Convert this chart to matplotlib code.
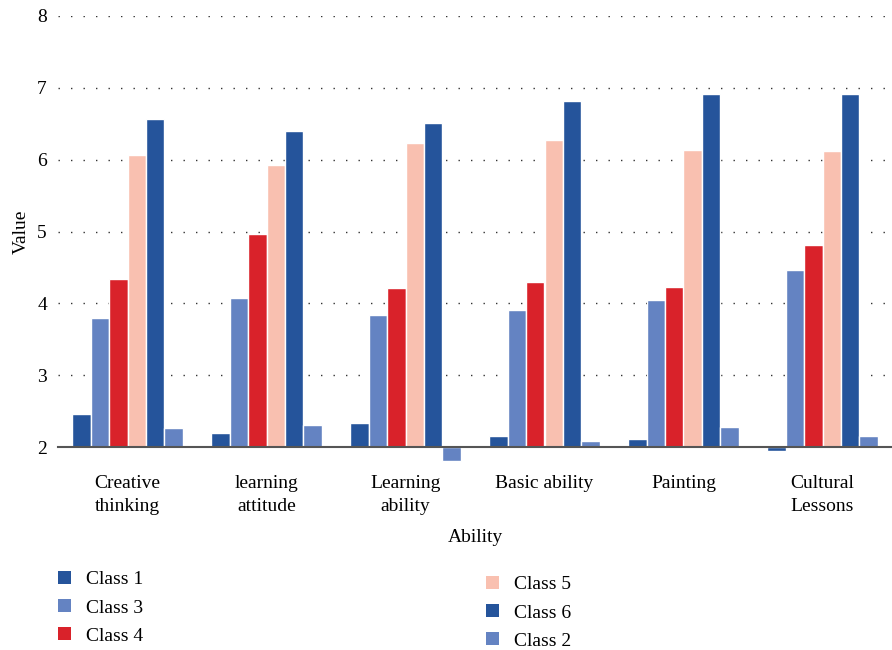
import numpy as np
import matplotlib.pyplot as plt
from matplotlib.patches import Patch

plt.rcParams['font.family'] = ['Liberation Serif', 'DejaVu Serif']

# Abilities on the x axis
abilities = ['Creative\nthinking', 'learning\nattitude', 'Learning\nability',
             'Basic ability', 'Painting', 'Cultural\nLessons']

# Series in the order they are drawn inside each group
class_names = ['Class 1', 'Class 3', 'Class 4', 'Class 5', 'Class 6', 'Class 2']
class_1 = [2.46, 2.19, 2.34, 2.16, 2.11, 1.95]
class_3 = [3.79, 4.07, 3.84, 3.91, 4.05, 4.46]
class_4 = [4.34, 4.97, 4.21, 4.30, 4.23, 4.81]
class_5 = [6.07, 5.93, 6.23, 6.28, 6.13, 6.12]
class_6 = [6.56, 6.40, 6.51, 6.81, 6.92, 6.91]
class_2 = [2.26, 2.30, 1.81, 2.09, 2.28, 2.16]
series = [class_1, class_3, class_4, class_5, class_6, class_2]

colors = ['#25549b', '#6483c2', '#d9222a', '#f9c0b0', '#25549b', '#6483c2']

base = 2.0
fig = plt.figure(figsize=(8.92, 6.5), dpi=100)
ax = fig.add_axes([58 / 892, 1 - 447 / 650, 1 - 58 / 892, (447 - 16) / 650])

x = np.arange(len(abilities))
step = 0.133
for i, vals in enumerate(series):
    offs = (i - 2.5) * step
    heights = np.array(vals) - base
    ax.bar(x + offs, heights, width=step, bottom=base, color=colors[i],
           edgecolor='white', linewidth=1.0, clip_on=False, zorder=3)

ax.set_xlim(-0.5, 5.5)
ax.set_ylim(2, 8)
ax.set_yticks(range(2, 9))
ax.set_xticks(x)
ax.set_xticklabels(abilities, fontsize=14, linespacing=1.45)
ax.tick_params(axis='y', length=0, labelsize=14, pad=8)
ax.tick_params(axis='x', length=0, pad=20)
ax.grid(axis='y', linestyle=(0, (1, 8)), color='#333333', linewidth=1.0)
ax.set_axisbelow(True)
for s in ['top', 'right', 'left']:
    ax.spines[s].set_visible(False)
ax.spines['bottom'].set_color('#555555')
ax.spines['bottom'].set_linewidth(1.5)
ax.spines['bottom'].set_zorder(4)

ax.set_xlabel('Ability', fontsize=14, labelpad=10)
ax.set_ylabel('Value', fontsize=14, labelpad=5)

handles = [Patch(facecolor=c, edgecolor='none') for c in colors]
leg_kw = dict(frameon=False, fontsize=14, handlelength=0.65, handleheight=0.65,
              handletextpad=0.8, labelspacing=0.56, borderpad=0, borderaxespad=0,
              loc='upper left')
leg1 = fig.legend(handles[:3], class_names[:3],
                  bbox_to_anchor=(58 / 892, 1 - 571 / 650), **leg_kw)
leg2 = fig.legend(handles[3:], class_names[3:],
                  bbox_to_anchor=(486 / 892, 1 - 576 / 650), **leg_kw)

plt.savefig('out.png', dpi=100)
